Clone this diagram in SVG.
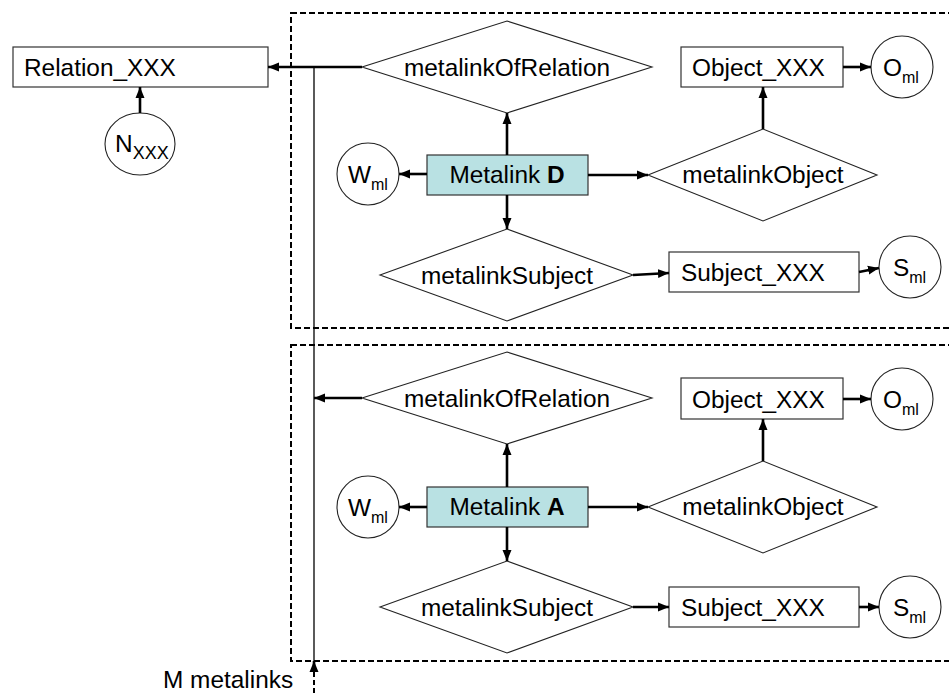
<svg xmlns="http://www.w3.org/2000/svg" width="949" height="693" viewBox="0 0 949 693">
<style>
text{font-family:"Liberation Sans",Arial,sans-serif;font-size:24.4px;fill:#000}
.sub{font-size:16px}
.box{fill:#fff;stroke:#333;stroke-width:1.2}
.ml{fill:#b9e1e3;stroke:#333;stroke-width:1.2}
.dia{fill:#fff;stroke:#222;stroke-width:1.1}
.circ{fill:#fff;stroke:#222;stroke-width:1.1}
.frame{fill:none;stroke:#000;stroke-width:2;stroke-dasharray:6 3}
.arr{fill:none;stroke:#000;stroke-width:2.6;marker-end:url(#ah)}
.thin{fill:none;stroke:#000;stroke-width:1.3}
.mid{text-anchor:middle}
</style>
<defs>
<marker id="ah" markerUnits="userSpaceOnUse" markerWidth="12" markerHeight="12" viewBox="0 0 12 12" refX="11" refY="6" orient="auto">
<path d="M0,1.5 L11,6 L0,10.5 Z" fill="#000"/>
</marker>
</defs>

<rect class="frame" x="291" y="13" width="662" height="315"/>
<rect class="frame" x="291" y="345" width="662" height="316"/>

<g id="relation"><rect class="box" x="13" y="47" width="255" height="40"/><text x="24" y="76">Relation_XXX</text></g>
<g id="nxxx"><ellipse class="circ" cx="140" cy="144" rx="35" ry="31"/><text x="115" y="152">N<tspan dy="7" font-size="18">XXX</tspan></text></g>
<text x="163" y="688">M metalinks</text>

<g id="blockD">
<g id="relD"><polygon class="dia" points="362,67 507,21 652,67 507,113"/><text class="mid" x="507" y="76">metalinkOfRelation</text></g>
<g id="mlD"><rect class="ml" x="427" y="155" width="161" height="40"/><text class="mid" x="507" y="183">Metalink <tspan font-weight="bold">D</tspan></text></g>
<g id="wD"><circle class="circ" cx="368" cy="174" r="31"/><text x="348" y="183">W<tspan class="sub" dy="7">ml</tspan></text></g>
<g id="objdD"><polygon class="dia" points="648,175 763,129 877,175 763,221"/><text class="mid" x="763" y="183">metalinkObject</text></g>
<g id="objD"><rect class="box" x="681" y="47" width="162" height="40"/><text x="692" y="76">Object_XXX</text></g>
<g id="oD"><circle class="circ" cx="902" cy="67" r="31"/><text x="883" y="76">O<tspan class="sub" dy="7">ml</tspan></text></g>
<g id="subdD"><polygon class="dia" points="380,275 507,229 633,275 507,321"/><text class="mid" x="507" y="284">metalinkSubject</text></g>
<g id="subD"><rect class="box" x="669" y="252" width="190" height="40"/><text x="681" y="281">Subject_XXX</text></g>
<g id="sD"><circle class="circ" cx="910" cy="267" r="31"/><text x="893" y="276">S<tspan class="sub" dy="7">ml</tspan></text></g>
</g>

<g id="blockA">
<g id="relA"><polygon class="dia" points="362,398 507,352 652,398 507,444"/><text class="mid" x="507" y="407">metalinkOfRelation</text></g>
<g id="mlA"><rect class="ml" x="427" y="487" width="161" height="40"/><text class="mid" x="507" y="515">Metalink <tspan font-weight="bold">A</tspan></text></g>
<g id="wA"><circle class="circ" cx="368" cy="507" r="31"/><text x="348" y="516">W<tspan class="sub" dy="7">ml</tspan></text></g>
<g id="objdA"><polygon class="dia" points="648,507 763,461 877,507 763,553"/><text class="mid" x="763" y="515">metalinkObject</text></g>
<g id="objA"><rect class="box" x="681" y="378" width="162" height="41"/><text x="692" y="408">Object_XXX</text></g>
<g id="oA"><circle class="circ" cx="902" cy="399" r="31"/><text x="883" y="408">O<tspan class="sub" dy="7">ml</tspan></text></g>
<g id="subdA"><polygon class="dia" points="380,607 507,561 633,607 507,653"/><text class="mid" x="507" y="616">metalinkSubject</text></g>
<g id="subA"><rect class="box" x="669" y="587" width="190" height="40"/><text x="681" y="616">Subject_XXX</text></g>
<g id="sA"><circle class="circ" cx="910" cy="607" r="31"/><text x="893" y="616">S<tspan class="sub" dy="7">ml</tspan></text></g>
</g>

<g id="connectors">
<line class="thin" x1="314" y1="67" x2="314" y2="661"/>
<line class="arr" x1="362" y1="67" x2="268" y2="67"/>
<line class="arr" x1="140" y1="113" x2="140" y2="87"/>
<line x1="314" y1="693" x2="314" y2="670" stroke="#000" stroke-width="2" stroke-dasharray="5 3"/>
<line class="arr" x1="314" y1="670" x2="314" y2="661"/>

<line class="arr" x1="507" y1="155" x2="507" y2="113"/>
<line class="arr" x1="507" y1="195" x2="507" y2="229"/>
<line class="arr" x1="427" y1="174" x2="399" y2="174"/>
<line class="arr" x1="588" y1="175" x2="648" y2="175"/>
<line class="arr" x1="763" y1="129" x2="763" y2="87"/>
<line class="arr" x1="843" y1="67" x2="871" y2="67"/>
<line class="arr" x1="633" y1="275" x2="669" y2="273"/>
<line class="arr" x1="859" y1="272" x2="879" y2="268"/>

<line class="arr" x1="362" y1="398" x2="314" y2="398"/>
<line class="arr" x1="507" y1="487" x2="507" y2="444"/>
<line class="arr" x1="507" y1="527" x2="507" y2="561"/>
<line class="arr" x1="427" y1="507" x2="399" y2="507"/>
<line class="arr" x1="588" y1="507" x2="648" y2="507"/>
<line class="arr" x1="763" y1="461" x2="763" y2="419"/>
<line class="arr" x1="843" y1="399" x2="871" y2="399"/>
<line class="arr" x1="633" y1="607" x2="669" y2="607"/>
<line class="arr" x1="859" y1="607" x2="879" y2="607"/>
</g>
</svg>
